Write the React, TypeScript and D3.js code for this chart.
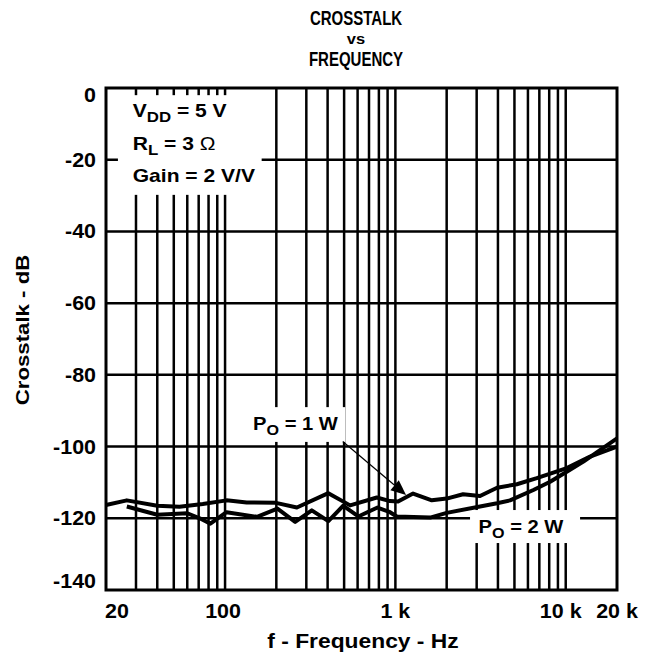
import { useEffect, useRef } from 'react';
import * as d3 from 'd3';

// P_O = 1 W curve (Hz, dB)
const freq1W = [20, 26.5, 40, 54, 74, 102, 134, 199, 264, 404, 542, 778, 930, 1037, 1270, 1636, 2000, 2496, 3140, 3953, 5165, 6764, 10140, 13900, 20000];
const crosstalk1W = [-116.3, -115, -116.5, -116.8, -116, -115, -115.6, -115.7, -117, -113, -116.4, -114.2, -115.2, -115.3, -113.1, -115, -114.5, -113.3, -113.8, -111.5, -110.5, -108.8, -106, -102.8, -100];

// P_O = 2 W curve (Hz, dB)
const freq2W = [26.5, 40, 60, 71, 82, 102, 154, 203, 258, 323, 404, 494, 606, 785, 930, 1019, 1600, 2000, 3140, 3953, 4710, 6460, 8100, 10140, 12700, 15900, 20000];
const crosstalk2W = [-116.7, -119, -118.6, -120, -121.5, -118.3, -119.6, -117.3, -121, -117.8, -120.8, -116.5, -119.5, -117, -118.3, -119.5, -119.8, -118.5, -116.7, -115.8, -115, -112.1, -109.8, -107, -104.2, -101, -97.7];

const yTicks = [0, -20, -40, -60, -80, -100, -120, -140];
const xTickValues = [20, 100, 1000, 10000, 20000];
const xTickLabels = ['20', '100', '1 k', '10 k', '20 k'];
const gridFreqs = [30, 40, 50, 60, 70, 80, 90, 100, 200, 300, 400, 500, 600, 700, 800, 900, 1000, 2000, 3000, 4000, 5000, 6000, 7000, 8000, 9000, 10000];

const FONT = '"Liberation Sans", Arial, Helvetica, sans-serif';

type Part = { s: string; sub?: boolean; normal?: boolean };

function addText(parent: any, x: number, y: number, parts: Part[], size: number, anchor = 'start', sx = 1.17) {
  const t = parent
    .append('text')
    .attr('transform', `translate(${x},${y}) scale(${sx},1)`)
    .attr('font-family', FONT)
    .attr('font-weight', 'bold')
    .attr('font-size', size)
    .attr('text-anchor', anchor)
    .attr('fill', '#000');
  let shifted = false;
  parts.forEach((p) => {
    const ts = t.append('tspan').text(p.s);
    if (p.sub && !shifted) {
      ts.attr('dy', 5).attr('font-size', size * 0.8);
      shifted = true;
    } else if (!p.sub && shifted) {
      ts.attr('dy', -5);
      shifted = false;
    }
    if (p.normal) ts.attr('font-weight', 'normal');
  });
  return t;
}

export default function App() {
  const svgRef = useRef<SVGSVGElement | null>(null);

  useEffect(() => {
    const svg = svgRef.current;
    if (!svg) return;
    const width = 652;
    const height = 656;
    const margin = { top: 88, right: 35, bottom: 66, left: 106 };

    const x = d3.scaleLog().domain([20, 20000]).range([margin.left, width - margin.right]);
    const y = d3.scaleLinear().domain([0, -140]).range([margin.top, height - margin.bottom]);

    const root = d3.select(svg);
    root.selectAll('*').remove();
    root.append('rect').attr('width', width).attr('height', height).attr('fill', '#fff');

    // grid
    const grid = root.append('g').attr('stroke', '#000').attr('stroke-width', 2.5);
    grid
      .selectAll('line.v')
      .data(gridFreqs)
      .join('line')
      .attr('x1', (d) => x(d))
      .attr('x2', (d) => x(d))
      .attr('y1', y(0))
      .attr('y2', y(-140));
    grid
      .selectAll('line.h')
      .data(yTicks.slice(1, -1))
      .join('line')
      .attr('class', 'h')
      .attr('x1', x(20))
      .attr('x2', x(20000))
      .attr('y1', (d) => y(d))
      .attr('y2', (d) => y(d));

    // white boxes behind annotations
    const boxes = [
      { f0: 23.5, f1: 164, d0: -2, d1: -29.8 },
      { f0: 143, f1: 508, d0: -89, d1: -98.7 },
      { f0: 2743, f1: 12140, d0: -117.7, d1: -126.9 },
    ];
    root
      .append('g')
      .selectAll('rect')
      .data(boxes)
      .join('rect')
      .attr('x', (d) => x(d.f0))
      .attr('y', (d) => y(d.d0))
      .attr('width', (d) => x(d.f1) - x(d.f0))
      .attr('height', (d) => y(d.d1) - y(d.d0))
      .attr('fill', '#fff');

    // curves
    const line = d3
      .line<[number, number]>()
      .x((d) => x(d[0]))
      .y((d) => y(d[1]));
    const series = [
      freq1W.map((f, i) => [f, crosstalk1W[i]] as [number, number]),
      freq2W.map((f, i) => [f, crosstalk2W[i]] as [number, number]),
    ];
    root
      .append('g')
      .selectAll('path')
      .data(series)
      .join('path')
      .attr('d', (d) => line(d))
      .attr('fill', 'none')
      .attr('stroke', '#000')
      .attr('stroke-width', 4)
      .attr('stroke-linejoin', 'round');

    // frame
    root
      .append('rect')
      .attr('x', x(20))
      .attr('y', y(0))
      .attr('width', x(20000) - x(20))
      .attr('height', y(-140) - y(0))
      .attr('fill', 'none')
      .attr('stroke', '#000')
      .attr('stroke-width', 3);

    // arrow for P_O = 1 W
    const a0 = [x(491), y(-98.6)];
    const a1 = [x(1155), y(-113.5)];
    const ang = Math.atan2(a1[1] - a0[1], a1[0] - a0[0]);
    const hl = 15;
    const hw = 6.5;
    const bx = a1[0] - hl * Math.cos(ang);
    const by = a1[1] - hl * Math.sin(ang);
    root
      .append('line')
      .attr('x1', a0[0])
      .attr('y1', a0[1])
      .attr('x2', bx)
      .attr('y2', by)
      .attr('stroke', '#000')
      .attr('stroke-width', 1.2);
    root
      .append('path')
      .attr(
        'd',
        `M${a1[0]},${a1[1]}L${bx + hw * Math.sin(ang)},${by - hw * Math.cos(ang)}L${bx - hw * Math.sin(ang)},${by + hw * Math.cos(ang)}Z`
      )
      .attr('fill', '#000');

    // y ticks
    yTicks.forEach((t, i) => {
      const off = i === 0 ? 7 : i === yTicks.length - 1 ? -9 : 0;
      addText(root, 96, y(t) + 7 + off, [{ s: String(t) }], 19.5, 'end', 1.1);
    });

    // x ticks
    const xOff = [11, -2, 0, -5, 0];
    xTickValues.forEach((v, i) => {
      addText(root, x(v) + xOff[i], 618, [{ s: xTickLabels[i] }], 19.5, 'middle', 1.1);
    });

    // axis titles
    addText(root, 363, 648, [{ s: 'f - Frequency - Hz' }], 19.5, 'middle');
    root
      .append('g')
      .attr('transform', 'translate(29,330) rotate(-90)')
      .call((g) => addText(g, 0, 0, [{ s: 'Crosstalk - dB' }], 19, 'middle'));

    // title
    addText(root, 356, 25, [{ s: 'CROSSTALK' }], 19.5, 'middle', 0.77);
    addText(root, 356, 44, [{ s: 'vs' }], 15, 'middle', 1.1);
    addText(root, 356, 66, [{ s: 'FREQUENCY' }], 19.5, 'middle', 0.77);

    // conditions
    addText(root, x(28.7), y(-8.2), [{ s: 'V' }, { s: 'DD', sub: true }, { s: ' = 5 V' }], 18);
    addText(root, x(28.7), y(-17.4), [{ s: 'R' }, { s: 'L', sub: true }, { s: ' = 3 ' }, { s: 'Ω', normal: true }], 18);
    addText(root, x(28.7), y(-26.2), [{ s: 'Gain = 2 V/V' }], 18);

    addText(root, x(146), y(-95.4), [{ s: 'P' }, { s: 'O', sub: true }, { s: ' = 1 W' }], 18, 'start', 1.12);
    addText(root, x(3080), y(-124.1), [{ s: 'P' }, { s: 'O', sub: true }, { s: ' = 2 W' }], 18, 'start', 1.12);
  }, []);

  return (
    <svg
      ref={svgRef}
      width={652}
      height={656}
      style={{ position: 'absolute', left: 0, top: 0, display: 'block' }}
    />
  );
}
